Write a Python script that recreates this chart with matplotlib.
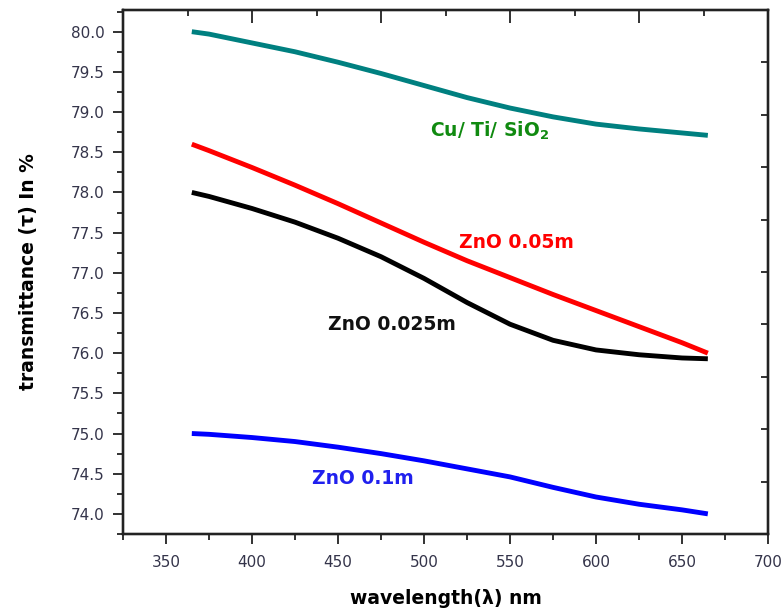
import matplotlib
matplotlib.use("Agg")
import matplotlib.pyplot as plt
from matplotlib.ticker import MultipleLocator, FixedLocator, NullFormatter

plt.rcParams['font.family'] = ['DejaVu Sans']

# ---- data ----
wavelength = [365, 375, 400, 425, 450, 475, 500, 525, 550, 575, 600, 625, 650, 665]
cu_ti_sio2 = [80.0, 79.97, 79.86, 79.75, 79.62, 79.48, 79.33, 79.18, 79.05, 78.94, 78.85, 78.79, 78.74, 78.71]
zno_005 = [78.6, 78.52, 78.31, 78.09, 77.86, 77.62, 77.38, 77.15, 76.94, 76.73, 76.53, 76.33, 76.13, 76.0]
zno_0025 = [78.0, 77.95, 77.8, 77.63, 77.43, 77.2, 76.93, 76.63, 76.36, 76.16, 76.04, 75.98, 75.94, 75.93]
zno_01 = [75.0, 74.99, 74.95, 74.9, 74.83, 74.75, 74.66, 74.56, 74.46, 74.33, 74.21, 74.12, 74.05, 74.0]

labels = ["Cu/ Ti/ SiO$_\\mathbf{2}$", "ZnO 0.05m", "ZnO 0.025m", "ZnO 0.1m"]
series = [cu_ti_sio2, zno_005, zno_0025, zno_01]
line_colors = ["#008080", "#ff0000", "#000000", "#0000ff"]
text_colors = ["#108a10", "#ff0000", "#111111", "#2020ee"]
label_pos = [(503.5, 78.76), (520.3, 77.38), (444.2, 76.36), (434.9, 74.44)]

xticks = [350, 400, 450, 500, 550, 600, 650, 700]

fig = plt.figure(figsize=(7.81, 6.09), dpi=100)
ax = fig.add_axes([0.1575, 0.1232, 0.8259, 0.8604])

for y, c in zip(series, line_colors):
    ax.plot(wavelength, y, color=c, lw=3.5, solid_capstyle='butt')

for (tx, ty), lab, tc in zip(label_pos, labels, text_colors):
    ax.text(tx, ty, lab, color=tc, fontsize=13.5, fontweight='bold',
            ha='left', va='center')

ax.set_xlim(325, 700)
ax.set_ylim(73.75, 80.27)
ax.xaxis.set_major_locator(FixedLocator(xticks))
ax.xaxis.set_minor_locator(MultipleLocator(25))
ax.yaxis.set_major_locator(MultipleLocator(0.5))
ax.yaxis.set_minor_locator(MultipleLocator(0.25))
ax.yaxis.set_major_formatter(matplotlib.ticker.FormatStrFormatter('%.1f'))

tick_col = '#34344a'
ax.tick_params(axis='both', which='major', direction='out', length=7, width=1.3,
               labelsize=11, labelcolor=tick_col, color='#222222')
ax.tick_params(axis='both', which='minor', direction='out', length=4, width=1.3,
               color='#222222')
ax.tick_params(axis='x', which='major', pad=8)
ax.tick_params(axis='y', which='major', pad=6)

for sp in ax.spines.values():
    sp.set_linewidth(1.6)
    sp.set_color('#222222')

ax.set_xlabel("wavelength(λ) nm", fontsize=13.5, fontweight='bold', labelpad=14)
ax.set_ylabel("transmittance (τ) In %", fontsize=13.5, fontweight='bold', labelpad=24)

# top and right frame ticks (inward, unlabeled)
axt = ax.twiny()
axt.set_xlim(0, 10)
axt.xaxis.set_major_locator(FixedLocator([2, 4, 6, 8]))
axt.xaxis.set_minor_locator(FixedLocator([1, 3, 5, 7, 9]))
axt.xaxis.set_major_formatter(NullFormatter())
axt.tick_params(axis='x', which='major', direction='in', length=9, width=1.3, color='#222222')
axt.tick_params(axis='x', which='minor', direction='in', length=4, width=1.3, color='#222222')

axr = ax.twinx()
axr.set_ylim(0, 10)
axr.yaxis.set_major_locator(FixedLocator([1, 2, 3, 4, 5, 6, 7, 8, 9]))
axr.yaxis.set_major_formatter(NullFormatter())
axr.tick_params(axis='y', which='major', direction='in', length=5, width=1.3, color='#222222')
for a in (axt, axr):
    for sp in a.spines.values():
        sp.set_linewidth(1.6)
        sp.set_color('#222222')

fig.savefig("out.png", dpi=100)
